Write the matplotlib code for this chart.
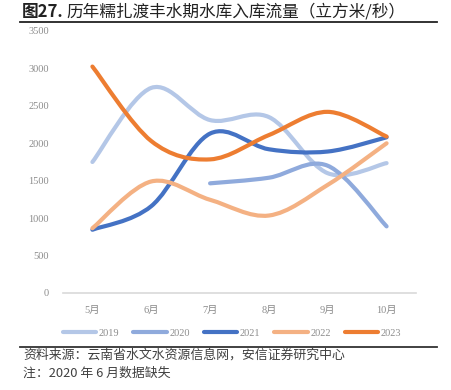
import numpy as np
import matplotlib
matplotlib.use("Agg")
import matplotlib.pyplot as plt
from matplotlib.path import Path
from matplotlib.patches import PathPatch
from matplotlib.lines import Line2D

plt.rcParams['font.family'] = ['Liberation Serif', 'Noto Sans CJK SC', 'DejaVu Sans']

months = ['5月', '6月', '7月', '8月', '9月', '10月']
years = ['2019', '2020', '2021', '2022', '2023']
v2019 = [1750, 2740, 2310, 2350, 1600, 1735]
v2020 = [None, None, 1465, 1540, 1700, 890]
v2021 = [845, 1160, 2130, 1920, 1890, 2080]
v2022 = [865, 1490, 1245, 1035, 1445, 2000]
v2023 = [3025, 2030, 1785, 2110, 2420, 2090]
series = [v2019, v2020, v2021, v2022, v2023]
colors = ['#B4C7E7', '#8FAADC', '#4472C4', '#F4B183', '#ED7D31']

title_head = '图27.'
title_body = '历年糯扎渡丰水期水库入库流量（立方米/秒）'
source_text = '资料来源：云南省水文水资源信息网，安信证券研究中心'
note_text = '注：2020 年 6 月数据缺失'

W, H = 452, 390
fig = plt.figure(figsize=(W / 100, H / 100), dpi=100)
ax = fig.add_axes([63 / W, 1 - 293 / H, 353 / W, 262 / H])
ax.set_xlim(-0.5, 5.5)
ax.set_ylim(0, 3500)


def smooth_path(xs, ys):
    pts = list(zip(xs, ys))
    verts = [pts[0]]
    codes = [Path.MOVETO]
    n = len(pts)
    for i in range(n - 1):
        p0 = pts[i - 1] if i > 0 else pts[i]
        p1 = pts[i]
        p2 = pts[i + 1]
        p3 = pts[i + 2] if i + 2 < n else pts[i + 1]
        c1 = (p1[0] + (p2[0] - p0[0]) / 6, p1[1] + (p2[1] - p0[1]) / 6)
        c2 = (p2[0] - (p3[0] - p1[0]) / 6, p2[1] - (p3[1] - p1[1]) / 6)
        verts += [c1, c2, p2]
        codes += [Path.CURVE4] * 3
    return Path(verts, codes)


for vals, c in zip(series, colors):
    xs = [i for i, v in enumerate(vals) if v is not None]
    ys = [v for v in vals if v is not None]
    patch = PathPatch(smooth_path(xs, ys), facecolor='none', edgecolor=c,
                      lw=3.0, capstyle='round', joinstyle='round', zorder=3)
    ax.add_patch(patch)

for s in ['top', 'right', 'left']:
    ax.spines[s].set_visible(False)
ax.spines['bottom'].set_color('#D9D9D9')
ax.spines['bottom'].set_linewidth(1.2)
ax.set_xticks(range(len(months)))
ax.set_xticklabels(months)
ax.set_yticks(range(0, 3501, 500))
ax.tick_params(axis='both', length=0, colors='#8C8C8C', labelsize=7.5)
ax.tick_params(axis='y', pad=10)
ax.tick_params(axis='x', pad=9)

handles = [Line2D([0], [0], color=c, lw=3, solid_capstyle='round') for c in colors]
leg = fig.legend(handles, years, loc='center', bbox_to_anchor=(232 / W, 1 - 333 / H), ncol=5,
                 frameon=False, fontsize=7.5, handlelength=3.2, handletextpad=0.25,
                 columnspacing=1.35)
for t in leg.get_texts():
    t.set_color('#8C8C8C')

# title
fig.text(22 / W, 1 - 12 / H, title_head, family=['Noto Sans CJK SC'], fontsize=12,
         fontweight='bold', va='center', ha='left', color='#222222')
fig.text(66 / W, 1 - 12 / H, title_body, family=['Noto Sans CJK SC'], fontsize=12,
         fontweight='medium', va='center', ha='left', color='#222222')

fig.add_artist(Line2D([20 / W, 437 / W], [1 - 22 / H, 1 - 22 / H], color='#222222', lw=1.3))
fig.add_artist(Line2D([20 / W, 437 / W], [1 - 347 / H, 1 - 347 / H], color='#333333', lw=1.3))
fig.text(23 / W, 1 - 355 / H, source_text, family=['Noto Sans CJK SC'], fontsize=9.3,
         style='italic', va='center', ha='left', color='#404040')
fig.text(23 / W, 1 - 373 / H, note_text, family=['Noto Sans CJK SC'], fontsize=9.3,
         style='italic', va='center', ha='left', color='#404040')

fig.savefig('out.png', dpi=100)
